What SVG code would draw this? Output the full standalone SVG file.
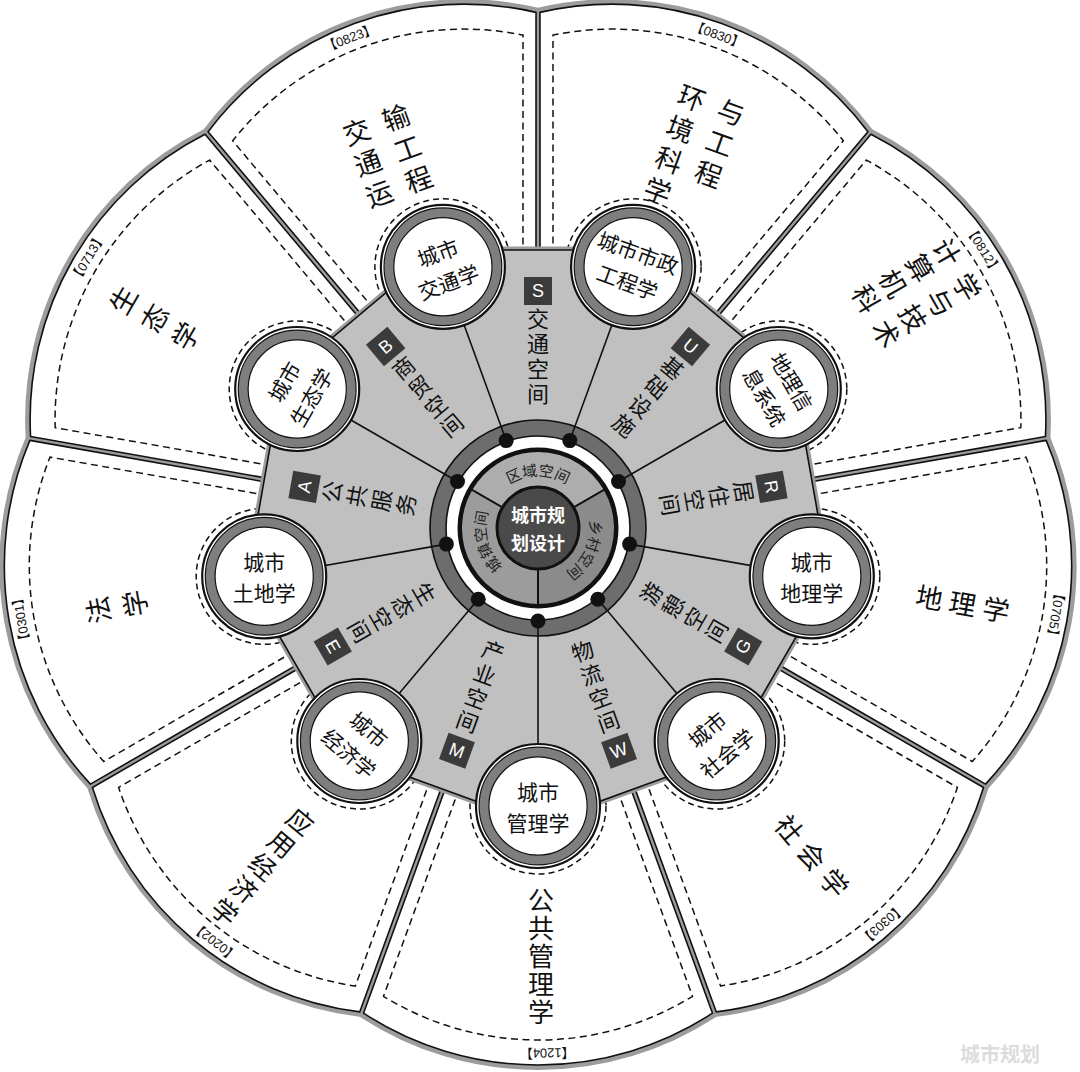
<svg xmlns="http://www.w3.org/2000/svg" width="1080" height="1072" viewBox="0 0 1080 1072">
<style>
.halo{fill:#9c9c9c;stroke:#9c9c9c;stroke-width:10;stroke-linejoin:round}
.pf{fill:#fff;stroke:#111;stroke-width:1.6;stroke-linejoin:round}
.dash{fill:none;stroke:#111;stroke-width:1.5;stroke-dasharray:7 4.5}
.pt{font-family:"Noto Sans CJK SC",sans-serif;font-size:27px;fill:#111;text-anchor:middle;dominant-baseline:central}
.vt{font-family:"Noto Sans CJK SC",sans-serif;font-size:26px;fill:#111;text-anchor:middle;writing-mode:vertical-rl;letter-spacing:2px}
.code{font-family:"Liberation Sans","Noto Sans CJK SC",sans-serif;font-size:13px;fill:#111;text-anchor:middle;dominant-baseline:central;stroke:#fff;stroke-width:4;paint-order:stroke}
.ct{font-family:"Noto Sans CJK SC",sans-serif;font-size:21px;fill:#111;text-anchor:middle;dominant-baseline:central}
.st{font-family:"Noto Sans CJK SC",sans-serif;font-size:22px;fill:#111;text-anchor:middle;writing-mode:vertical-rl;letter-spacing:3px}
.box{fill:#3b3b3b}
.bl{font-family:"Liberation Sans",sans-serif;font-size:18px;fill:#fff;text-anchor:middle;dominant-baseline:central}
.spoke{stroke:#111;stroke-width:1.6}
.dot{fill:#111}
.it{font-family:"Noto Sans CJK SC",sans-serif;font-size:15px;fill:#222}
.cdash{fill:none;stroke:#111;stroke-width:1.5;stroke-dasharray:6 4}
</style>
<defs>
<path id="pshape" d="M188.6,-66.5 L485.2,-174.5 A320,320 0 0 1 485.2,174.5 L188.6,66.5 Z"/>
<path id="pdash" d="M240.1,-71.4 L468.3,-154.5 A295,295 0 0 1 468.3,154.5 L240.1,71.4"/>
<g id="cbase">
<circle r="62" fill="#fff" stroke="#111" stroke-width="2.2"/>
<circle r="54" fill="none" stroke="#7e7e7e" stroke-width="9.5"/>
<circle r="58.9" fill="none" stroke="#111" stroke-width="1.2"/>
<circle r="49.1" fill="none" stroke="#111" stroke-width="1.2"/>
</g>
<path id="tp-top" d="M492.97,502 A52,52 0 0 1 583.03,502"/>
<path id="tp-left" d="M524.54,578.23 A52,52 0 0 1 501.23,491.23"/>
<path id="tp-right" d="M580.6,498.17 A52,52 0 0 1 542.53,579.8"/>
</defs>

<g id="petal-halos">
<use href="#pshape" class="halo" transform="translate(538 528) rotate(250)"/>
<use href="#pshape" class="halo" transform="translate(538 528) rotate(290)"/>
<use href="#pshape" class="halo" transform="translate(538 528) rotate(330)"/>
<use href="#pshape" class="halo" transform="translate(538 528) rotate(10)"/>
<use href="#pshape" class="halo" transform="translate(538 528) rotate(50)"/>
<use href="#pshape" class="halo" transform="translate(538 528) rotate(90)"/>
<use href="#pshape" class="halo" transform="translate(538 528) rotate(130)"/>
<use href="#pshape" class="halo" transform="translate(538 528) rotate(170)"/>
<use href="#pshape" class="halo" transform="translate(538 528) rotate(210)"/>
</g>

<g id="petal-0823">
<use href="#pshape" class="pf" transform="translate(538 528) rotate(250)"/>
<use href="#pdash" class="dash" transform="translate(538 528) rotate(250)"/>
<text class="code" transform="translate(349.9 37.9) rotate(-21)">【0823】</text>
<g transform="translate(387 154) rotate(-20)"><text class="pt"><tspan x="-21" y="-33">交</tspan><tspan x="-21" y="0">通</tspan><tspan x="-21" y="33">运</tspan><tspan x="21" y="-33">输</tspan><tspan x="21" y="0">工</tspan><tspan x="21" y="33">程</tspan></text></g>
</g>
<g id="petal-0830">
<use href="#pshape" class="pf" transform="translate(538 528) rotate(290)"/>
<use href="#pdash" class="dash" transform="translate(538 528) rotate(290)"/>
<text class="code" transform="translate(717.6 34.7) rotate(20)">【0830】</text>
<g transform="translate(695 150) rotate(20)"><text class="pt"><tspan x="-21" y="-49.5">环</tspan><tspan x="-21" y="-16.5">境</tspan><tspan x="-21" y="16.5">科</tspan><tspan x="-21" y="49.5">学</tspan><tspan x="21" y="-49.5">与</tspan><tspan x="21" y="-16.5">工</tspan><tspan x="21" y="16.5">程</tspan></text></g>
</g>
<g id="petal-0812">
<use href="#pshape" class="pf" transform="translate(538 528) rotate(330)"/>
<use href="#pdash" class="dash" transform="translate(538 528) rotate(330)"/>
<text class="code" transform="translate(983.2 249.8) rotate(58)">【0812】</text>
<g transform="translate(918 292) rotate(60)"><text class="pt"><tspan x="-20" y="-46.5">计</tspan><tspan x="-20" y="-15.5">算</tspan><tspan x="-20" y="15.5">机</tspan><tspan x="-20" y="46.5">科</tspan><tspan x="20" y="-46.5">学</tspan><tspan x="20" y="-15.5">与</tspan><tspan x="20" y="15.5">技</tspan><tspan x="20" y="46.5">术</tspan></text></g>
</g>
<g id="petal-0705">
<use href="#pshape" class="pf" transform="translate(538 528) rotate(10)"/>
<use href="#pdash" class="dash" transform="translate(538 528) rotate(10)"/>
<text class="code" transform="translate(1055.8 614.6) rotate(99.5)">【0705】</text>
<g transform="translate(963 602) rotate(10)"><text class="pt"><tspan x="-34" y="0">地</tspan><tspan x="0" y="0">理</tspan><tspan x="34" y="0">学</tspan></text></g>
</g>
<g id="petal-0303">
<use href="#pshape" class="pf" transform="translate(538 528) rotate(50)"/>
<use href="#pdash" class="dash" transform="translate(538 528) rotate(50)"/>
<text class="code" transform="translate(882.4 924.2) rotate(139)">【0303】</text>
<g transform="translate(813 855) rotate(50)"><text class="pt"><tspan x="-35" y="0">社</tspan><tspan x="0" y="0">会</tspan><tspan x="35" y="0">学</tspan></text></g>
</g>
<g id="petal-1204">
<use href="#pshape" class="pf" transform="translate(538 528) rotate(90)"/>
<use href="#pdash" class="dash" transform="translate(538 528) rotate(90)"/>
<text class="code" transform="translate(547.2 1052.9) rotate(179)">【1204】</text>
<text class="vt" x="541" y="957">公共管理学</text>
</g>
<g id="petal-0202">
<use href="#pshape" class="pf" transform="translate(538 528) rotate(130)"/>
<use href="#pdash" class="dash" transform="translate(538 528) rotate(130)"/>
<text class="code" transform="translate(214.8 941.7) rotate(218)">【0202】</text>
<g transform="translate(264 865) rotate(40)"><text class="pt" style="font-size:26px"><tspan x="0" y="-58.8">应</tspan><tspan x="0" y="-29.4">用</tspan><tspan x="0" y="0">经</tspan><tspan x="0" y="29.4">济</tspan><tspan x="0" y="58.8">学</tspan></text></g>
</g>
<g id="petal-0301">
<use href="#pshape" class="pf" transform="translate(538 528) rotate(170)"/>
<use href="#pdash" class="dash" transform="translate(538 528) rotate(170)"/>
<text class="code" transform="translate(21 619.2) rotate(260)">【0301】</text>
<g transform="translate(115 607) rotate(-100)"><text class="pt"><tspan x="0" y="-18.5">法</tspan><tspan x="0" y="18.5">学</tspan></text></g>
</g>
<g id="petal-0713">
<use href="#pshape" class="pf" transform="translate(538 528) rotate(210)"/>
<use href="#pdash" class="dash" transform="translate(538 528) rotate(210)"/>
<text class="code" transform="translate(88 257.6) rotate(301)">【0713】</text>
<g transform="translate(153 317) rotate(-60)"><text class="pt"><tspan x="0" y="-36">生</tspan><tspan x="0" y="0">态</tspan><tspan x="0" y="36">学</tspan></text></g>
</g>

<g id="circle-dash-rings">
<circle class="cdash" cx="442.9" cy="266.8" r="68"/>
<circle class="cdash" cx="633.1" cy="266.8" r="68"/>
<circle class="cdash" cx="778.8" cy="389" r="68"/>
<circle class="cdash" cx="811.8" cy="576.3" r="68"/>
<circle class="cdash" cx="716.7" cy="741" r="68"/>
<circle class="cdash" cx="538" cy="806" r="68"/>
<circle class="cdash" cx="359.3" cy="741" r="68"/>
<circle class="cdash" cx="264.2" cy="576.3" r="68"/>
<circle class="cdash" cx="297.2" cy="389" r="68"/>
</g>

<g id="hub-plate">
<polygon points="436.8,250 639.2,250 794.2,380.1 829.3,579.4 728.1,754.6 538,823.8 347.9,754.6 246.7,579.4 281.8,380.1" fill="#9c9c9c" stroke="#9c9c9c" stroke-width="7" stroke-linejoin="round"/>
<polygon points="436.8,250 639.2,250 794.2,380.1 829.3,579.4 728.1,754.6 538,823.8 347.9,754.6 246.7,579.4 281.8,380.1" fill="#c0c0c0" stroke="#111" stroke-width="1.6"/>
</g>

<g id="hub-core">
<circle cx="538" cy="528" r="108" fill="#6d6d6d" stroke="#111" stroke-width="1.6"/>
<circle cx="538" cy="528" r="92" fill="#fff" stroke="#111" stroke-width="1.6"/>
<circle cx="538" cy="528" r="78.5" fill="none" stroke="#111" stroke-width="4"/>
<g transform="translate(538 528)" stroke="#111" stroke-width="2">
<path d="M-66.68,-38.5 A77,77 0 0 1 66.68,-38.5 L35.5,-20.5 A41,41 0 0 0 -35.5,-20.5 Z" fill="#adadad"/>
<path d="M66.68,-38.5 A77,77 0 0 1 0,77 L0,41 A41,41 0 0 0 35.5,-20.5 Z" fill="#8b8b8b"/>
<path d="M0,77 A77,77 0 0 1 -66.68,-38.5 L-35.5,-20.5 A41,41 0 0 0 0,41 Z" fill="#9c9c9c"/>
</g>
<text class="it"><textPath href="#tp-top" startOffset="50%" text-anchor="middle">区域空间</textPath></text>
<text class="it"><textPath href="#tp-left" startOffset="50%" text-anchor="middle">城镇空间</textPath></text>
<text class="it"><textPath href="#tp-right" startOffset="50%" text-anchor="middle">乡村空间</textPath></text>
<circle cx="538" cy="528" r="41" fill="#4a4a4a" stroke="#111" stroke-width="3"/>
<text font-family="Noto Sans CJK SC, sans-serif" font-size="18" font-weight="bold" fill="#fff" text-anchor="middle" dominant-baseline="central"><tspan x="538" y="514">城市规</tspan><tspan x="538" y="542">划设计</tspan></text>
</g>

<g id="connectors">
<line class="spoke" x1="506.2" y1="440.6" x2="442.9" y2="266.8"/>
<line class="spoke" x1="569.8" y1="440.6" x2="633.1" y2="266.8"/>
<line class="spoke" x1="618.5" y1="481.5" x2="778.8" y2="389"/>
<line class="spoke" x1="629.6" y1="544.1" x2="811.8" y2="576.3"/>
<line class="spoke" x1="597.8" y1="599.2" x2="716.7" y2="741"/>
<line class="spoke" x1="538" y1="621" x2="538" y2="806"/>
<line class="spoke" x1="478.2" y1="599.2" x2="359.3" y2="741"/>
<line class="spoke" x1="446.4" y1="544.1" x2="264.2" y2="576.3"/>
<line class="spoke" x1="457.5" y1="481.5" x2="297.2" y2="389"/>
<circle class="dot" cx="506.2" cy="440.6" r="7.5"/>
<circle class="dot" cx="569.8" cy="440.6" r="7.5"/>
<circle class="dot" cx="618.5" cy="481.5" r="7.5"/>
<circle class="dot" cx="629.6" cy="544.1" r="7.5"/>
<circle class="dot" cx="597.8" cy="599.2" r="7.5"/>
<circle class="dot" cx="538" cy="621" r="7.5"/>
<circle class="dot" cx="478.2" cy="599.2" r="7.5"/>
<circle class="dot" cx="446.4" cy="544.1" r="7.5"/>
<circle class="dot" cx="457.5" cy="481.5" r="7.5"/>
</g>

<g id="sec-S" transform="translate(538 528) rotate(0)"><rect class="box" x="-14" y="-251" width="28" height="28"/><text class="bl" x="0" y="-237">S</text><text class="st" x="0" y="-170">交通空间</text></g>
<g id="sec-U" transform="translate(538 528) rotate(40)"><rect class="box" x="-14" y="-251" width="28" height="28"/><text class="bl" x="0" y="-237">U</text><text class="st" x="0" y="-170">基础设施</text></g>
<g id="sec-R" transform="translate(538 528) rotate(80)"><rect class="box" x="-14" y="-251" width="28" height="28"/><text class="bl" x="0" y="-237">R</text><text class="st" x="0" y="-170">居住空间</text></g>
<g id="sec-G" transform="translate(538 528) rotate(-60)"><rect class="box" x="-14" y="223" width="28" height="28"/><text class="bl" x="0" y="237">G</text><text class="st" x="0" y="170">游憩空间</text></g>
<g id="sec-W" transform="translate(538 528) rotate(-20)"><rect class="box" x="-14" y="223" width="28" height="28"/><text class="bl" x="0" y="237">W</text><text class="st" x="0" y="170">物流空间</text></g>
<g id="sec-M" transform="translate(538 528) rotate(20)"><rect class="box" x="-14" y="223" width="28" height="28"/><text class="bl" x="0" y="237">M</text><text class="st" x="0" y="170">产业空间</text></g>
<g id="sec-E" transform="translate(538 528) rotate(60)"><rect class="box" x="-14" y="223" width="28" height="28"/><text class="bl" x="0" y="237">E</text><text class="st" x="0" y="170">生态空间</text></g>
<g id="sec-A" transform="translate(538 528) rotate(-80)"><rect class="box" x="-14" y="-251" width="28" height="28"/><text class="bl" x="0" y="-237">A</text><text class="st" x="0" y="-170">公共服务</text></g>
<g id="sec-B" transform="translate(538 528) rotate(-40)"><rect class="box" x="-14" y="-251" width="28" height="28"/><text class="bl" x="0" y="-237">B</text><text class="st" x="0" y="-170">商贸空间</text></g>

<g id="c-jiaotong" transform="translate(442.9 266.8)"><use href="#cbase"/><text class="ct" transform="rotate(-20)"><tspan x="0" y="-15.5">城市</tspan><tspan x="0" y="15.5">交通学</tspan></text></g>
<g id="c-shizheng" transform="translate(633.1 266.8)"><use href="#cbase"/><text class="ct" transform="rotate(20)"><tspan x="0" y="-15.5">城市市政</tspan><tspan x="0" y="15.5">工程学</tspan></text></g>
<g id="c-gis" transform="translate(778.8 389)"><use href="#cbase"/><text class="ct" transform="rotate(60)"><tspan x="0" y="-15.5">地理信</tspan><tspan x="0" y="15.5">息系统</tspan></text></g>
<g id="c-dili" transform="translate(811.8 576.3)"><use href="#cbase"/><text class="ct"><tspan x="0" y="-15.5">城市</tspan><tspan x="0" y="15.5">地理学</tspan></text></g>
<g id="c-shehui" transform="translate(716.7 741)"><use href="#cbase"/><text class="ct" transform="rotate(-40)"><tspan x="0" y="-15.5">城市</tspan><tspan x="0" y="15.5">社会学</tspan></text></g>
<g id="c-guanli" transform="translate(538 806)"><use href="#cbase"/><text class="ct"><tspan x="0" y="-15.5">城市</tspan><tspan x="0" y="15.5">管理学</tspan></text></g>
<g id="c-jingji" transform="translate(359.3 741)"><use href="#cbase"/><text class="ct" transform="rotate(40)"><tspan x="0" y="-15.5">城市</tspan><tspan x="0" y="15.5">经济学</tspan></text></g>
<g id="c-tudi" transform="translate(264.2 576.3)"><use href="#cbase"/><text class="ct"><tspan x="0" y="-15.5">城市</tspan><tspan x="0" y="15.5">土地学</tspan></text></g>
<g id="c-shengtai" transform="translate(297.2 389)"><use href="#cbase"/><text class="ct" transform="rotate(-60)"><tspan x="0" y="-15.5">城市</tspan><tspan x="0" y="15.5">生态学</tspan></text></g>

<text x="1000" y="1053" font-family="Noto Sans CJK SC, sans-serif" font-size="20" font-weight="bold" fill="#dcdcdc" text-anchor="middle" dominant-baseline="central">城市规划</text>
</svg>
